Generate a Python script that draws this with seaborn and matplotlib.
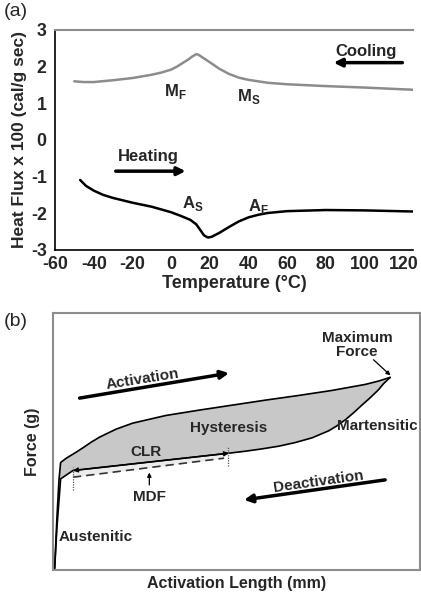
import matplotlib
matplotlib.use("Agg")
import matplotlib.pyplot as plt
import seaborn as sns
import pandas as pd
import numpy as np

sns.set_style("white")
plt.rcParams['font.family'] = ['Liberation Sans', 'DejaVu Sans']
plt.rcParams['font.weight'] = 'bold'
plt.rcParams['axes.unicode_minus'] = False
plt.rcParams['mathtext.fontset'] = 'custom'
plt.rcParams['mathtext.rm'] = 'Liberation Sans:bold'
plt.rcParams['mathtext.bf'] = 'Liberation Sans:bold'

# ---------------- Panel (a) data: DSC curves ----------------
cool_T = [-50, -45, -40, -30, -20, -10, -5, 0, 3, 6, 9, 11, 13, 14, 16, 20, 25, 30, 35, 40, 50, 60, 80, 100, 125]
cool_Q = [1.60, 1.58, 1.58, 1.63, 1.69, 1.78, 1.84, 1.92, 2.00, 2.10, 2.20, 2.28, 2.34, 2.33, 2.26, 2.12, 1.94, 1.80, 1.70,
          1.64, 1.56, 1.52, 1.47, 1.43, 1.37]
heat_T = [-47, -44, -40, -35, -30, -20, -10, 0, 5, 10, 13, 15, 17, 19, 21, 25, 30, 35, 40, 45, 50, 60, 80, 100, 125]
heat_Q = [-1.09, -1.25, -1.38, -1.50, -1.58, -1.71, -1.82, -1.97, -2.07, -2.18, -2.30, -2.45, -2.60, -2.66, -2.64, -2.53,
          -2.37, -2.22, -2.11, -2.04, -1.99, -1.94, -1.91, -1.92, -1.95]
x_ticks_a = [-60, -40, -20, 0, 20, 40, 60, 80, 100, 120]
y_ticks_a = [-3, -2, -1, 0, 1, 2, 3]

# ---------------- Panel (b) data: force-deflection loop ----------------
act_x = [0.5, 1.2, 1.8, 2.3, 4.0, 6.5, 9.0, 11.5, 14.0, 19.0, 24.0, 34.0, 44.0, 54.0, 64.0, 74.0, 84.0, 89.0, 94.0, 98.0, 101.5]
act_y = [0.5, 16.0, 27.0, 32.2, 33.5, 35.0, 36.6, 38.3, 39.8, 42.2, 44.0, 46.3, 47.9, 49.4, 50.9, 52.3, 53.8, 54.7, 55.6, 56.6, 57.7]
deact_x = [101.5, 99.5, 98.0, 95.5, 93.0, 90.5, 88.0, 85.5, 83.0, 78.0, 73.0, 68.0, 63.0, 58.0, 53.0, 6.0, 2.3, 1.2, 0.5]
deact_y = [57.7, 55.8, 54.0, 51.6, 49.4, 47.1, 45.0, 43.2, 41.7, 39.6, 38.2, 37.1, 36.3, 35.6, 35.0, 29.8, 27.3, 13.0, 0.5]
mdf_x = [6.0, 51.5]
mdf_y = [27.8, 33.5]

fig = plt.figure(figsize=(4.21, 5.98), dpi=100)

# ---------- (a) ----------
axa = fig.add_axes([55/421, 1-250/598, 358/421, 220/598])
dfc = pd.DataFrame({"T": cool_T, "Q": cool_Q})
dfh = pd.DataFrame({"T": heat_T, "Q": heat_Q})
sns.lineplot(data=dfc, x="T", y="Q", ax=axa, color="#8c8c8c", lw=1.8, sort=False, estimator=None)
sns.lineplot(data=dfh, x="T", y="Q", ax=axa, color="black", lw=1.8, sort=False, estimator=None)
axa.set_xlim(-60, 125)
axa.set_ylim(-3, 3)
axa.set_xticks(x_ticks_a)
axa.set_yticks(y_ticks_a)
axa.set_xticks(np.arange(-50, 125, 20), minor=True)
axa.set_yticks(np.arange(-2.5, 3, 1.0), minor=True)
axa.tick_params(axis='both', which='both', direction='in', labelsize=12.8, width=1)
axa.tick_params(which='major', length=4)
axa.tick_params(axis='x', which='major', pad=4)
axa.tick_params(axis='y', which='major', pad=6)
axa.tick_params(which='minor', length=3)
for lab in axa.get_xticklabels() + axa.get_yticklabels():
    lab.set_fontweight('bold')
for s in ['left', 'bottom']:
    axa.spines[s].set_color('black')
    axa.spines[s].set_linewidth(1.2)
axa.spines['top'].set_color('#8c8c8c')
axa.spines['top'].set_linewidth(1.5)
axa.spines['right'].set_visible(False)
axa.set_xlabel("Temperature (°C)", fontsize=13, fontweight='bold', labelpad=2)
axa.set_ylabel("Heat Flux x 100 (cal/g sec)", fontsize=12.5, fontweight='bold', labelpad=3)

tk = dict(fontsize=12, fontweight='bold', ha='center', va='center')
axa.text(2, 1.32, r"M$_{\mathbf{F}}$", **tk)
axa.text(40, 1.18, r"M$_{\mathbf{S}}$", **tk)
axa.text(11.3, -1.73, r"A$_{\mathbf{S}}$", **tk)
axa.text(45.3, -1.80, r"A$_{\mathbf{F}}$", **tk)
axa.text(-11.6, -0.45, "Heating", **tk)
axa.text(101, 2.41, "Cooling", **tk)
aprops = dict(arrowstyle='-|>', lw=2.5, color='black', mutation_scale=12, shrinkA=0, shrinkB=0)
axa.annotate("", xy=(7.5, -0.85), xytext=(-28.6, -0.85), arrowprops=aprops)
axa.annotate("", xy=(84, 2.11), xytext=(119.5, 2.11), arrowprops=aprops)
fig.text(4/421, 1-12/598, "(a)", fontsize=14, fontweight='normal', ha='left', va='center')

# ---------- (b) ----------
axb = fig.add_axes([53/421, 1-570/598, (420-53)/421, 257/598])
axb.fill(act_x + deact_x[1:], act_y + deact_y[1:], color="#c8c8c8", lw=0, zorder=1)
axb.fill_between(mdf_x, [29.8, 35.0], mdf_y, color="#ececec", lw=0, zorder=1)
sns.lineplot(x=act_x, y=act_y, ax=axb, color='black', lw=1.2, sort=False, estimator=None)
sns.lineplot(x=deact_x, y=deact_y, ax=axb, color='black', lw=1.2, sort=False, estimator=None)
axb.plot(mdf_x, mdf_y, color='#333333', lw=1.2, ls=(0, (5, 3)))
axb.set_xlim(0, 110.5)
axb.set_ylim(0, 77)
axb.set_xticks([])
axb.set_yticks([])
for s in axb.spines.values():
    s.set_color('#8c8c8c')
    s.set_linewidth(1.5)
axb.set_xlabel("Activation Length (mm)", fontsize=11.5, fontweight='bold', labelpad=4)
axb.set_ylabel("Force (g)", fontsize=11.5, fontweight='bold', labelpad=9)

# CLR double arrow and dotted markers
axb.annotate("", xy=(6.0, 29.8), xytext=(53.0, 35.0),
             arrowprops=dict(arrowstyle='<|-|>', lw=1.0, color='black', mutation_scale=7, shrinkA=0, shrinkB=0))
axb.plot([6.0, 6.0], [24, 31], color='#555555', lw=0.9, ls=(0, (1, 1)))
axb.plot([52.8, 52.8], [31.3, 37], color='#555555', lw=0.9, ls=(0, (1, 1)))

tb = dict(fontsize=11, fontweight='bold', ha='center', va='center')
axb.text(27, 57, "Activation", rotation=9, **tb)
axb.annotate("", xy=(53, 59), xytext=(8, 51.5),
             arrowprops=dict(arrowstyle='-|>', lw=2.5, color='black', mutation_scale=12, shrinkA=0, shrinkB=0))
axb.text(80, 26.5, "Deactivation", rotation=8, **tb)
axb.annotate("", xy=(57.5, 21), xytext=(100, 27),
             arrowprops=dict(arrowstyle='-|>', lw=2.5, color='black', mutation_scale=12, shrinkA=0, shrinkB=0))
axb.text(91.5, 67.5, "Maximum\nForce", linespacing=1.0, **tb)
axb.annotate("", xy=(101.6, 58.3), xytext=(96.5, 63),
             arrowprops=dict(arrowstyle='-|>', lw=0.9, color='black', mutation_scale=6, shrinkA=0, shrinkB=0))
axb.text(53, 42.5, "Hysteresis", **tb)
axb.text(97.5, 43, "Martensitic", **tb)
axb.text(28, 35.5, "CLR", **tb)
axb.text(29, 22, "MDF", **tb)
axb.annotate("", xy=(29, 29.2), xytext=(29, 25.5),
             arrowprops=dict(arrowstyle='-|>', lw=0.9, color='black', mutation_scale=6, shrinkA=0, shrinkB=0))
axb.text(13, 10, "Austenitic", **tb)
fig.text(4/421, 1-322/598, "(b)", fontsize=14, fontweight='normal', ha='left', va='center')

fig.savefig("out.png", dpi=100)
